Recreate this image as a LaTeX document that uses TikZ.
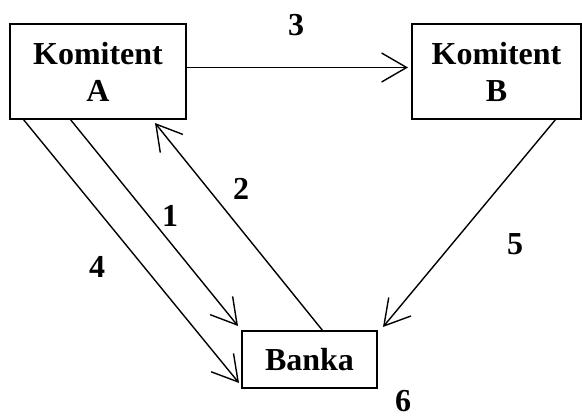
\documentclass[tikz,border=0pt]{standalone}
\usepackage{fontspec}
\setmainfont{Liberation Serif}
\usepackage{tikz}
\usetikzlibrary{arrows.meta}

\begin{document}
\begin{tikzpicture}[x=1pt, y=-1pt,
    box/.style={draw, line width=1.5pt, outer sep=0pt, inner sep=0pt, align=center,
      font=\fontsize{32}{37}\selectfont\bfseries},
    num/.style={inner sep=0pt, font=\fontsize{32}{37}\selectfont\bfseries},
    flow/.style={line width=1.4pt, -{Straight Barb[length=25pt, width=29pt, line width=1.4pt]}}]
  \useasboundingbox (0,0) rectangle (582,419);

  \node[box, minimum width=176pt, minimum height=95pt] (ka) at (98,71.5) {Komitent\\A};
  \node[box, minimum width=169pt, minimum height=95pt] (kb) at (496.5,71.5) {Komitent\\B};
  \node[box, minimum width=135pt, minimum height=57pt] (bk) at (309.5,359.5) {Banka};

  % tokovi
  \draw[flow] ([yshift=4pt]ka.east) -- ([xshift=-4pt, yshift=4pt]kb.west);
  \draw[flow] ([xshift=60pt]ka.south west) -- ([xshift=-4pt, yshift=5pt]bk.north west);
  \draw[flow] ([xshift=81pt]bk.north west) -- ([xshift=-31pt, yshift=-4pt]ka.south east);
  \draw[flow] ([xshift=13pt]ka.south west) -- ([xshift=-3pt, yshift=5pt]bk.south west);
  \draw[flow] ([xshift=144pt]kb.south west) -- ([xshift=6pt, yshift=4pt]bk.north east);

  \node[num] (n1) at (170,216) {1};
  \node[num] (n2) at (241,189) {2};
  \node[num] (n3) at (296,25) {3};
  \node[num] (n4) at (97,267) {4};
  \node[num] (n5) at (515,244) {5};
  \node[num] (n6) at (403,401) {6};
\end{tikzpicture}
\end{document}
